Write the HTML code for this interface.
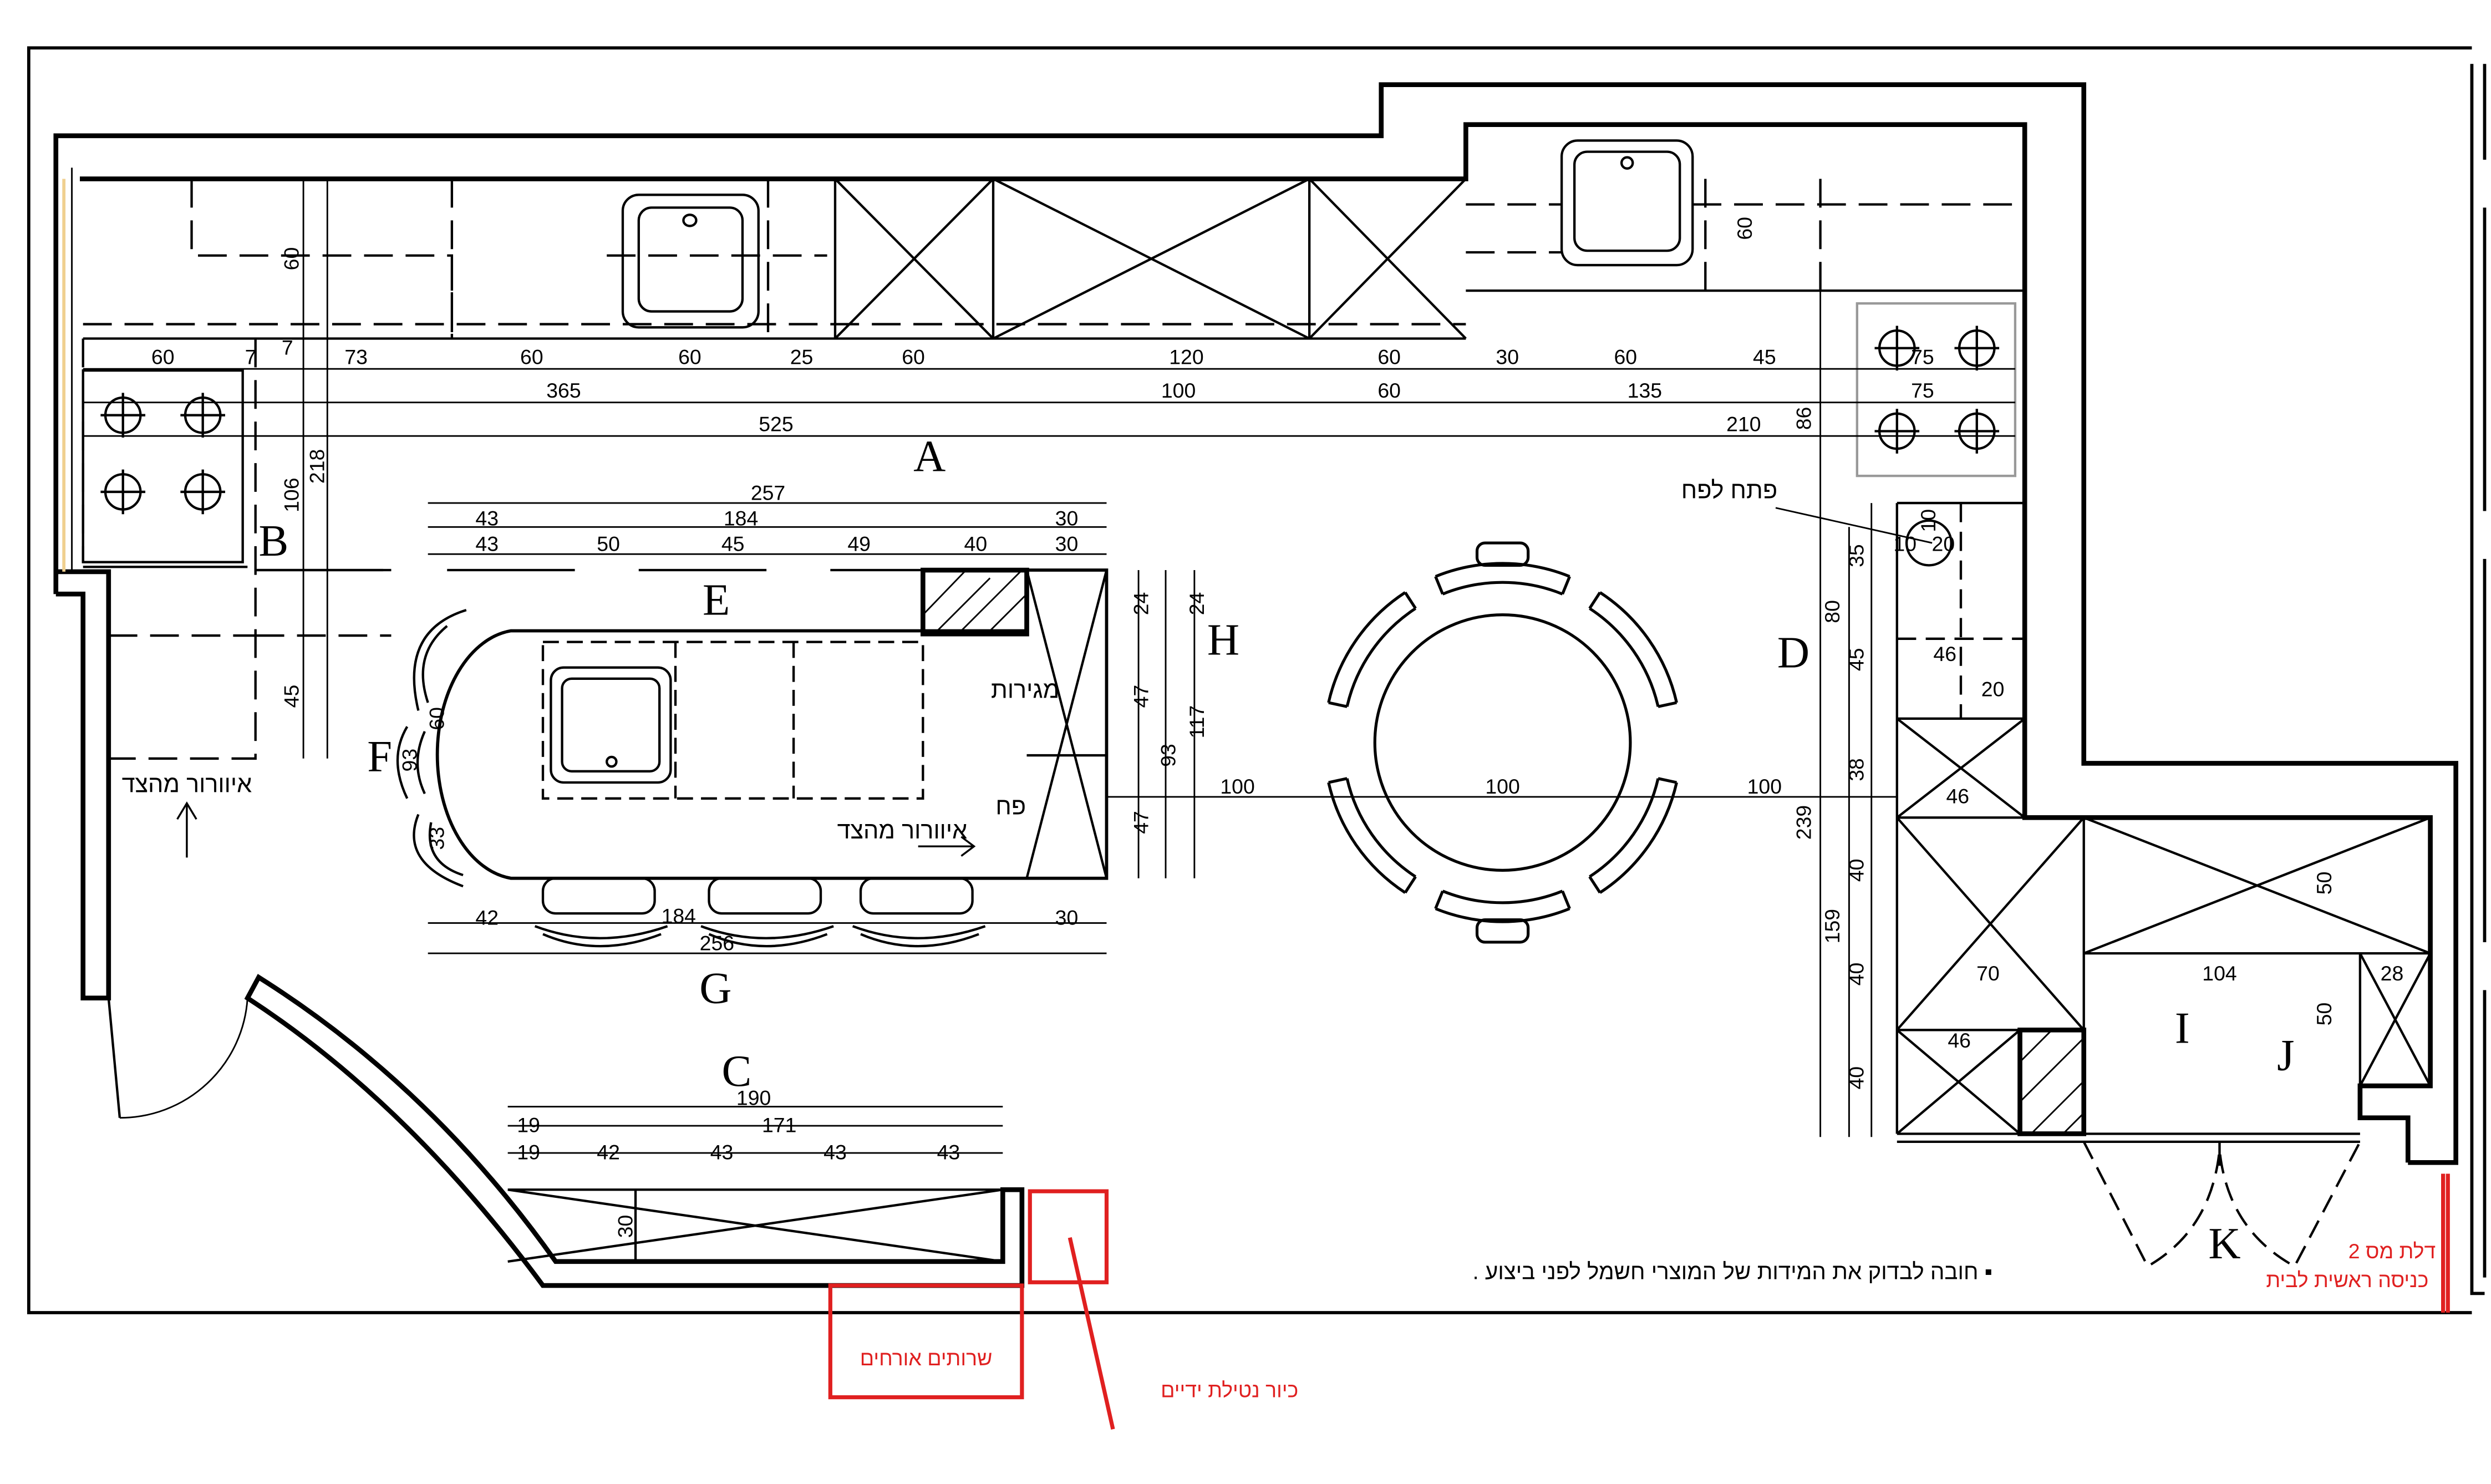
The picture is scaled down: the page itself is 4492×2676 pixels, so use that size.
<!DOCTYPE html>
<html><head><meta charset="utf-8"><style>
html,body{margin:0;padding:0;background:#fff}
svg{display:block}
text{font-family:"Liberation Sans",sans-serif}
.l{font-family:"Liberation Serif",serif;font-size:28px}
.d{font-size:13px;text-anchor:middle}
.h{font-family:"Liberation Sans","Noto Sans CJK SC",sans-serif}
.r{fill:#e02020}
</style></head><body>
<svg width="4492" height="2676" viewBox="0 0 1560 929.3" xmlns="http://www.w3.org/2000/svg">
<g fill="none" stroke="#000">
<path d="M1548,30 H18 V822 H1548" stroke-width="2"/>
<path d="M1548,40 V810 H1556 M1556,40 V100 M1556,130 V320 M1556,350 V590 M1556,620 V800" stroke-width="2"/>
<g stroke-width="3">
<path d="M35,372 V85 H865 V53 H1305 V478 H1538 V728 H1508"/>
<path d="M50,112 H918 V78 H1268 V512 H1522 V680 H1478 V700 H1508 V728"/>
<path d="M35,358 H68 V625 H52 V372 H35"/>
<path d="M155,625 Q255,690 340,805 H640 V745 H628 V790 H348 Q270,680 162,612 Z"/>
</g>
<path d="M40,112 V358" stroke="#f0d090" stroke-width="2"/>
<path d="M45,105 V358" stroke-width="1"/>
<path d="M68,625 L75,700" stroke-width="1.5"/>
<path d="M75,700 A80,80 0 0 0 155,625" stroke-width="1"/>
<g stroke-width="1.5">
<path d="M52,212 H918"/>
<path d="M52,203 H918" stroke-dasharray="18,8"/>
<path d="M120,112 V160 H283 V212 M283,112 V212" stroke-dasharray="18,8"/>
<path d="M523,112 V212 M622,112 V212 M820,112 V212 M523,112 L622,212 M622,112 L523,212 M622,112 L820,212 M820,112 L622,212 M820,112 L918,212 M918,112 L820,212"/>
<rect x="390" y="122" width="85" height="83" rx="10"/>
<rect x="400" y="130" width="65" height="65" rx="8"/>
<ellipse cx="432" cy="138" rx="4" ry="3.5"/>
<path d="M380,160 H518 M481,112 V212" stroke-dasharray="18,8"/>
<path d="M918,182 H1268"/>
<path d="M918,128 H978 M1060,128 H1268 M918,158 H978 M1068,112 V182 M1140,112 V182" stroke-dasharray="18,8"/>
<rect x="978" y="88" width="82" height="78" rx="10"/>
<rect x="986" y="95" width="66" height="62" rx="8"/>
<circle cx="1019" cy="102" r="3.5"/>
<rect x="1163" y="190" width="99" height="108" stroke="#999"/>
<rect x="52" y="232" width="100" height="120"/>
<path d="M52,212 V352 M160,212 V475 H68 M160,398 H245 M68,398 H160" stroke-dasharray="18,8"/>
<path d="M52,355 H155 M160,357 H245"/>
</g>
<g stroke-width="1.5">
<circle cx="77" cy="260" r="11"/><circle cx="127" cy="260" r="11"/><circle cx="77" cy="308" r="11"/><circle cx="127" cy="308" r="11"/>
<path d="M63,260 H91 M77,246 V274 M113,260 H141 M127,246 V274 M63,308 H91 M77,294 V322 M113,308 H141 M127,294 V322"/>
<circle cx="1188" cy="218" r="11"/><circle cx="1238" cy="218" r="11"/><circle cx="1188" cy="270" r="11"/><circle cx="1238" cy="270" r="11"/>
<path d="M1174,218 H1202 M1188,204 V232 M1224,218 H1252 M1238,204 V232 M1174,270 H1202 M1188,256 V284 M1224,270 H1252 M1238,256 V284"/>
</g>
<g stroke-width="1">
<path d="M52,231 H1262 M52,252 H1262 M52,273 H1262"/>
<path d="M190,112 V475 M205,112 V475"/>
<path d="M268,315 H693 M268,330 H693 M268,347 H693 M268,578 H693 M268,597 H693"/>
<path d="M713,357 V550 M730,357 V550 M748,357 V550"/>
<path d="M693,499 H1188"/>
<path d="M1140,182 V712 M1158,330 V712 M1172,315 V712"/>
<path d="M318,693 H628 M318,705 H628 M318,722 H628"/>
<path d="M1305,597 H1522"/>
<path d="M160,357 H578" stroke-dasharray="80,40" stroke-width="1.5"/>
</g>
<g stroke-width="1.5">
<path d="M320,395 H643 V357 H693 V550 H320 A52,78 0 0 1 320,395 Z" stroke-width="2"/>
<path d="M578,357 H643 V397 H578 Z" stroke-width="3"/>
<path d="M585,397 L620,362 M600,397 L640,357 M618,397 L643,372 M578,385 L605,357" stroke-width="1"/>
<path d="M643,357 L693,550 M693,357 L643,550 M643,473 H693"/>
<rect x="340" y="402" width="238" height="98" stroke-dasharray="10,5"/>
<path d="M423,402 V500 M497,402 V500" stroke-dasharray="10,5"/>
<rect x="345" y="418" width="75" height="72" rx="8"/>
<rect x="352" y="425" width="61" height="58" rx="6"/>
<circle cx="383" cy="477" r="3"/>
<path d="M292,382 Q250,395 262,445 M280,392 Q258,410 268,440"/>
<path d="M255,455 Q243,475 255,500 M266,458 Q257,478 266,497"/>
<path d="M262,510 Q250,540 290,555 M270,515 Q265,540 290,548"/>
<rect x="340" y="550" width="70" height="22" rx="8"/><path d="M335,580 Q375,595 418,580 M340,585 Q375,600 414,585"/>
<rect x="444" y="550" width="70" height="22" rx="8"/><path d="M439,580 Q479,595 522,580 M444,585 Q479,600 518,585"/>
<rect x="539" y="550" width="70" height="22" rx="8"/><path d="M534,580 Q574,595 617,580 M539,585 Q574,600 613,585"/>
</g>
<g stroke-width="1.8">
<circle cx="941" cy="465" r="80"/>
<path d="M899,361 A112,112 0 0 1 983,361 M903.5,372 A100,100 0 0 1 978.5,372 M899,361 L903.5,372 M983,361 L978.5,372"/>
<path d="M983,569 A112,112 0 0 1 899,569 M978.5,558 A100,100 0 0 1 903.5,558 M899,569 L903.5,558 M983,569 L978.5,558"/>
<path d="M1002,371 A112,112 0 0 1 1050,440 M995.5,381 A100,100 0 0 1 1038.4,442.5 M1002,371 L995.5,381 M1050,440 L1038.4,442.5"/>
<path d="M1050,490 A112,112 0 0 1 1002,559 M1038.4,487.5 A100,100 0 0 1 995.5,549 M1002,559 L995.5,549 M1050,490 L1038.4,487.5"/>
<path d="M832,440 A112,112 0 0 1 880,371 M843.6,442.5 A100,100 0 0 1 886.5,381 M880,371 L886.5,381 M832,440 L843.6,442.5"/>
<path d="M880,559 A112,112 0 0 1 832,490 M886.5,549 A100,100 0 0 1 843.6,487.5 M880,559 L886.5,549 M832,490 L843.6,487.5"/>
<rect x="925" y="340" width="32" height="14" rx="5"/><rect x="925" y="576" width="32" height="14" rx="5"/>
</g>
<g stroke-width="1.5">
<path d="M1188,315 H1268 M1188,315 V710 M1188,450 H1268 M1188,450 L1268,512 M1268,450 L1188,512"/>
<path d="M1188,400 H1268 M1228,315 V450" stroke-dasharray="12,6"/>
<circle cx="1208" cy="340" r="14"/>
<path d="M1188,512 H1305 V710 M1188,512 L1305,645 M1305,512 L1188,645 M1188,645 H1265 M1188,645 L1265,710 M1265,645 L1188,710"/>
<path d="M1265,645 H1305 V710 H1265 Z" stroke-width="3"/>
<path d="M1265,665 L1285,645 M1265,690 L1305,650 M1272,710 L1305,677 M1292,710 L1305,697" stroke-width="1"/>
<path d="M1305,512 L1522,597 M1522,512 L1305,597 M1305,597 H1522 M1478,597 V680 M1478,597 L1522,680 M1522,597 L1478,680"/>
<path d="M1188,710 H1478 M1188,715 H1478"/>
<path d="M1390,715 V730" />
<path d="M1305,715 L1345,793 Q1385,770 1390,720 Q1395,770 1437,793 L1478,715" stroke-dasharray="12,6"/>
</g>
<g stroke-width="1.5">
<path d="M318,745 H628 M318,745 L628,790 M628,745 L318,790 M398,745 V790"/>
</g>
<path d="M1112,318 L1210,340" stroke-width="1"/>
<path d="M117,537 V503 M111,513 L117,503 L123,513" stroke-width="1.2"/>
<path d="M575,530 H610 M602,524 L610,530 L602,536" stroke-width="1.2"/>
<g stroke="#e02020" stroke-width="2.5">
<rect x="520" y="805" width="120" height="70"/>
<rect x="645" y="746" width="48" height="57"/>
<path d="M670,775 L697,895"/>
<path d="M1530,735 V822 M1533,735 V822"/>
</g>
</g>
<text class="l" x="572" y="295">A</text>
<text class="l" x="162" y="348">B</text>
<text class="l" x="440" y="385">E</text>
<text class="l" x="756" y="410">H</text>
<text class="l" x="1113" y="418">D</text>
<text class="l" x="230" y="483">F</text>
<text class="l" x="438" y="628">G</text>
<text class="l" x="452" y="680">C</text>
<text class="l" x="1362" y="653">I</text>
<text class="l" x="1426" y="670">J</text>
<text class="l" x="1383" y="788">K</text>
<g>
<text class="d" x="102" y="228">60</text><text class="d" x="157" y="228">7</text><text class="d" x="180" y="222">7</text><text class="d" x="223" y="228">73</text><text class="d" x="333" y="228">60</text><text class="d" x="432" y="228">60</text><text class="d" x="502" y="228">25</text><text class="d" x="572" y="228">60</text><text class="d" x="743" y="228">120</text><text class="d" x="870" y="228">60</text><text class="d" x="944" y="228">30</text><text class="d" x="1018" y="228">60</text><text class="d" x="1105" y="228">45</text><text class="d" x="1204" y="228">75</text>
<text class="d" x="353" y="249">365</text><text class="d" x="738" y="249">100</text><text class="d" x="870" y="249">60</text><text class="d" x="1030" y="249">135</text><text class="d" x="1204" y="249">75</text>
<text class="d" x="486" y="270">525</text><text class="d" x="1092" y="270">210</text>
<text class="d" x="481" y="313">257</text>
<text class="d" x="305" y="329">43</text><text class="d" x="464" y="329">184</text><text class="d" x="668" y="329">30</text>
<text class="d" x="305" y="345">43</text><text class="d" x="381" y="345">50</text><text class="d" x="459" y="345">45</text><text class="d" x="538" y="345">49</text><text class="d" x="611" y="345">40</text><text class="d" x="668" y="345">30</text>
<text class="d" x="305" y="579">42</text><text class="d" x="425" y="578">184</text><text class="d" x="668" y="579">30</text>
<text class="d" x="449" y="595">256</text>
<text class="d" x="775" y="497">100</text><text class="d" x="941" y="497">100</text><text class="d" x="1105" y="497">100</text>
<text class="d" x="472" y="692">190</text><text class="d" x="331" y="709">19</text><text class="d" x="488" y="709">171</text>
<text class="d" x="331" y="726">19</text><text class="d" x="381" y="726">42</text><text class="d" x="452" y="726">43</text><text class="d" x="523" y="726">43</text><text class="d" x="594" y="726">43</text>
<text class="d" x="1245" y="614">70</text><text class="d" x="1390" y="614">104</text><text class="d" x="1498" y="614">28</text>
<text class="d" x="1227" y="656">46</text><text class="d" x="1218" y="414">46</text><text class="d" x="1226" y="503">46</text><text class="d" x="1248" y="436">20</text><text class="d" x="1217" y="345">20</text><text class="d" x="1193" y="345">10</text>
</g>
<g font-size="13" text-anchor="middle">
<text transform="translate(187,162) rotate(-90)">60</text>
<text transform="translate(187,310) rotate(-90)">106</text>
<text transform="translate(203,292) rotate(-90)">218</text>
<text transform="translate(187,436) rotate(-90)">45</text>
<text transform="translate(1097,143) rotate(-90)">60</text>
<text transform="translate(1134,262) rotate(-90)">86</text>
<text transform="translate(1152,383) rotate(-90)">80</text>
<text transform="translate(1134,515) rotate(-90)">239</text>
<text transform="translate(1152,580) rotate(-90)">159</text>
<text transform="translate(1167,348) rotate(-90)">35</text>
<text transform="translate(1167,413) rotate(-90)">45</text>
<text transform="translate(1167,482) rotate(-90)">38</text>
<text transform="translate(1167,545) rotate(-90)">40</text>
<text transform="translate(1167,610) rotate(-90)">40</text>
<text transform="translate(1167,675) rotate(-90)">40</text>
<text transform="translate(1212,326) rotate(-90)">10</text>
<text transform="translate(1460,553) rotate(-90)">50</text>
<text transform="translate(1460,635) rotate(-90)">50</text>
<text transform="translate(396,768) rotate(-90)">30</text>
<text transform="translate(719,378) rotate(-90)">24</text>
<text transform="translate(754,378) rotate(-90)">24</text>
<text transform="translate(719,436) rotate(-90)">47</text>
<text transform="translate(736,473) rotate(-90)">93</text>
<text transform="translate(754,452) rotate(-90)">117</text>
<text transform="translate(719,515) rotate(-90)">47</text>
<text transform="translate(261,476) rotate(-90)">93</text>
<text transform="translate(278,450) rotate(-90)">60</text>
<text transform="translate(278,525) rotate(-90)">33</text>
</g>
<g class="h" font-size="15">
<text x="1083" y="312" text-anchor="middle" direction="rtl">פתח לפח</text>
<text x="642" y="437" text-anchor="middle" direction="rtl">מגירות</text>
<text x="633" y="510" text-anchor="middle">פח</text>
<text x="565" y="525" text-anchor="middle" direction="rtl">איוורור מהצד</text>
<text x="117" y="496" text-anchor="middle" direction="rtl">איוורור מהצד</text>
<text x="1085" y="801" text-anchor="middle" direction="rtl" font-size="14">▪ חובה לבדוק את המידות של המוצרי חשמל לפני ביצוע .</text>
</g>
<g class="h" font-size="13">
<text class="r" x="580" y="855" text-anchor="middle">שרותים אורחים</text>
<text class="r" x="770" y="875" text-anchor="middle">כיור נטילת ידיים</text>
<text class="r" x="1498" y="788" text-anchor="middle">דלת מס 2</text>
<text class="r" x="1470" y="806" text-anchor="middle">כניסה ראשית לבית</text>
</g>
</svg>
</body></html>
